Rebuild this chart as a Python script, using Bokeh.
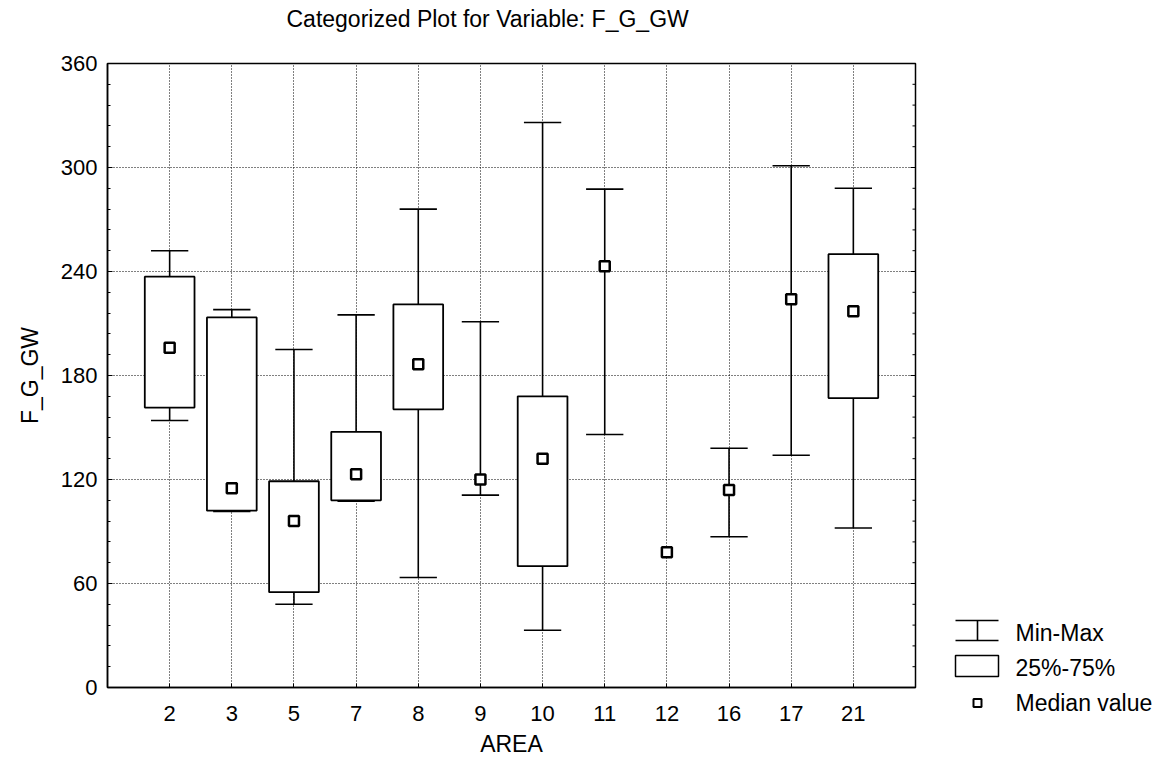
import math
from bokeh.plotting import figure
from bokeh.layouts import row, column
from bokeh.models import (Range1d, SingleIntervalTicker, FixedTicker, ColumnDataSource)
from bokeh.core.properties import value
from bokeh.embed import file_html
from bokeh.resources import INLINE

NaN = float("nan")

# ---------------- data ----------------
areas   = ["2", "3", "5", "7", "8", "9", "10", "11", "12", "16", "17", "21"]
mins    = [154, 101.5, 48, 107.5, 63.5, 111, 33, 146, NaN, 87, 134, 92]
q1      = [161.5, 102, 55, 108, 160.5, NaN, 70, NaN, NaN, NaN, NaN, 167]
medians = [196, 115, 96, 123, 186.5, 120, 132, 243, 78, 114, 224, 217]
q3      = [237, 213.5, 119, 147.5, 221, NaN, 168, NaN, NaN, NaN, NaN, 250]
maxs    = [252, 218, 195, 215, 276, 211, 326, 287.5, NaN, 138, 301, 288]

y_ticks = [0, 60, 120, 180, 240, 300, 360]
y_minor_step = 12

title_text = "Categorized Plot for Variable: F_G_GW"
x_label = "AREA"
y_label = "F_G_GW"
legend_labels = ["Min-Max", "25%-75%", "Median value"]

FONT = "Liberation Sans"
FS = "23px"
FS_TICK = "22px"

xs = list(range(1, len(areas) + 1))
box_w = 0.8
cap_hw = 0.3

src = ColumnDataSource(dict(
    x=xs,
    xl=[x - cap_hw for x in xs],
    xr=[x + cap_hw for x in xs],
    mn=mins, q1=q1, md=medians, q3=q3, mx=maxs,
))

PAGE_W, PAGE_H = 1162, 770
TITLE_H = 32

# ---------------- title strip (page-pixel coords) ----------------
tf = figure(width=PAGE_W, height=TITLE_H, output_backend="svg", toolbar_location=None,
            x_range=Range1d(0, PAGE_W), y_range=Range1d(TITLE_H, 0),
            x_axis_location=None, y_axis_location=None,
            min_border_left=0, min_border_right=0, min_border_top=0, min_border_bottom=0,
            outline_line_color=None, background_fill_color="white",
            border_fill_color="white")
tf.frame_align = False
tf.grid.visible = False
tf.text(x=[286], y=[18], text=[title_text], text_font=value(FONT), text_font_size=FS,
        text_baseline="middle", text_align="left", text_color="black")

# ---------------- main figure ----------------
W_MAIN, H = 923, PAGE_H - TITLE_H
BL, BR, BT, BB = 107, 8, 63 - TITLE_H, 83
x_end = len(areas) + 1
p = figure(width=W_MAIN, height=H, output_backend="svg", toolbar_location=None,
           x_range=Range1d(0, x_end), y_range=Range1d(y_ticks[0], y_ticks[-1]),
           min_border_left=BL, min_border_right=BR, min_border_top=BT,
           min_border_bottom=BB, background_fill_color="white",
           border_fill_color="white")
p.frame_align = False

p.outline_line_color = "black"
p.outline_line_width = 1.5

# axes
xa = p.xaxis[0]
xa.ticker = FixedTicker(ticks=xs)
xa.major_label_overrides = {x: a for x, a in zip(xs, areas)}
xa.axis_label = x_label
ya = p.yaxis[0]
ya.ticker = SingleIntervalTicker(interval=60, num_minor_ticks=5)
ya.axis_label = y_label

for ax in (xa, ya):
    ax.axis_line_color = "black"
    ax.axis_line_width = 1.5
    ax.major_tick_out = 0
    ax.minor_tick_out = 0
    ax.major_tick_line_color = "black"
    ax.minor_tick_line_color = "black"
    ax.major_label_text_font = FONT
    ax.major_label_text_font_size = FS_TICK
    ax.major_label_text_color = "black"
    ax.axis_label_text_font = FONT
    ax.axis_label_text_font_size = FS
    ax.axis_label_text_font_style = "normal"
    ax.axis_label_text_color = "black"

xa.major_tick_in = 4
xa.minor_tick_line_color = None
xa.major_label_standoff = 18
xa.axis_label_standoff = 7
ya.major_tick_in = 5
ya.minor_tick_in = 3
ya.major_label_standoff = 10
ya.axis_label_standoff = 15

# inward tick marks along the right frame edge (decoration)
frame_w = W_MAIN - BL - BR
px = x_end / frame_w
minor_vals = list(range(y_ticks[0], y_ticks[-1] + 1, y_minor_step))
tick_len = [5 if v in y_ticks else 3 for v in minor_vals]
p.segment(x0=[x_end] * len(minor_vals), y0=minor_vals,
          x1=[x_end - t * px for t in tick_len], y1=minor_vals,
          line_color="black", line_width=1)

# grid
p.xgrid.ticker = FixedTicker(ticks=xs)
for g in (p.xgrid[0], p.ygrid[0]):
    g.grid_line_color = "black"
    g.grid_line_dash = "1 2"
    g.grid_line_width = 1
    g.grid_line_alpha = 1.0

# whiskers
p.segment(x0="x", y0="mn", x1="x", y1="mx", source=src, line_color="black", line_width=1.6)
p.segment(x0="xl", y0="mn", x1="xr", y1="mn", source=src, line_color="black", line_width=1.6)
p.segment(x0="xl", y0="mx", x1="xr", y1="mx", source=src, line_color="black", line_width=1.6)
# boxes
p.vbar(x="x", width=box_w, bottom="q1", top="q3", source=src,
       fill_color="white", line_color="black", line_width=1.8)
# medians
p.scatter(x="x", y="md", source=src, marker="square", size=10,
          fill_color="white", line_color="black", line_width=2.5)

# ---------------- legend panel (page-pixel coords) ----------------
lw = PAGE_W - W_MAIN
lg = figure(width=lw, height=H, output_backend="svg", toolbar_location=None,
            x_range=Range1d(0, lw), y_range=Range1d(PAGE_H, TITLE_H),
            x_axis_location=None, y_axis_location=None,
            min_border_left=0, min_border_right=0, min_border_top=0, min_border_bottom=0,
            outline_line_color=None, background_fill_color="white",
            border_fill_color="white")
lg.frame_align = False
lg.grid.visible = False

gx0, gx1, gxc = 32, 75, 54
lg.segment(x0=[gx0, gx0, gxc], y0=[620, 640, 620], x1=[gx1, gx1, gxc], y1=[620, 640, 640],
           line_color="black", line_width=1.6)
lg.quad(left=[gx0], right=[gx1], top=[655], bottom=[676],
        fill_color="white", line_color="black", line_width=1.5)
lg.scatter(x=[gxc], y=[702.5], marker="square", size=8,
           fill_color="white", line_color="black", line_width=2)
lg.text(x=[92, 92, 92], y=[632, 667, 702], text=legend_labels,
        text_font=value(FONT), text_font_size=FS, text_baseline="middle",
        text_align="left", text_color="black")

layout = column(tf, row(p, lg, spacing=0), spacing=0)

open("out.html", "w").write(file_html(layout, INLINE))
